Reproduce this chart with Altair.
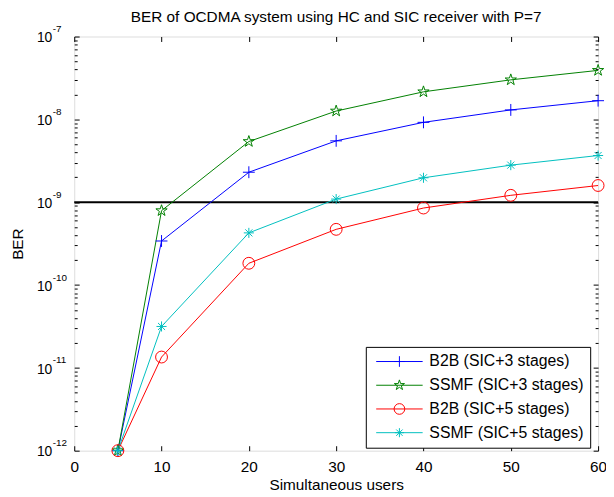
import math
import altair as alt
import pandas as pd

# ---------------- data ----------------
users = [5, 10, 20, 30, 40, 50, 60]
b2b_sic3 = [1e-12, 3.4e-10, 2.3e-9, 5.5e-9, 9.2e-9, 1.3e-8, 1.68e-8]
ssmf_sic3 = [1e-12, 7.9e-10, 5.4e-9, 1.26e-8, 2.15e-8, 3.0e-8, 3.9e-8]
b2b_sic5 = [1e-12, 1.35e-11, 1.83e-10, 4.7e-10, 8.5e-10, 1.21e-9, 1.59e-9]
ssmf_sic5 = [1e-12, 3.16e-11, 4.26e-10, 1.09e-9, 1.97e-9, 2.8e-9, 3.66e-9]
series_names = ["B2B (SIC+3 stages)", "SSMF (SIC+3 stages)",
                "B2B (SIC+5 stages)", "SSMF (SIC+5 stages)"]
series_colors = ["#0000ff", "#008000", "#ff0000", "#00bfbf"]
threshold_x = [0, 60]
threshold_y = [1e-9, 1e-9]
x_tick_values = [0, 10, 20, 30, 40, 50, 60]
y_decade_exponents = [-12, -11, -10, -9, -8, -7]
title_text = "BER of OCDMA system using HC and SIC receiver with P=7"
x_title = "Simultaneous users"
y_title = "BER"

# ---------------- tables ----------------
all_series = [b2b_sic3, ssmf_sic3, b2b_sic5, ssmf_sic5]
rows = []
for name, vals in zip(series_names, all_series):
    for xv, yv in zip(users, vals):
        rows.append({"x": xv, "y": yv, "series": name})
df = pd.DataFrame(rows)
thr = pd.DataFrame({"x": threshold_x, "y": threshold_y})
y_ticks = []
for e in y_decade_exponents:
    y_ticks.append(10.0 ** e)
    if e < y_decade_exponents[-1]:
        for m in range(2, 10):
            y_ticks.append(m * 10.0 ** e)
exp_df = pd.DataFrame({"y": [10.0 ** e for e in y_decade_exponents],
                       "exp": [str(e) for e in y_decade_exponents]})

# ---------------- marker paths (styling) ----------------
def f(v):
    return f"{v:.3f}"

def star_path(r, cx=0.0):
    pts = []
    for i in range(10):
        a = -math.pi / 2 + i * math.pi / 5
        rr = r if i % 2 == 0 else r * 0.382
        pts.append(f"{f(cx + rr*math.cos(a))},{f(rr*math.sin(a))}")
    return "M" + "L".join(pts) + "Z"

def plus_path(r, cx=0.0):
    return f"M{f(cx-r)},0H{f(cx+r)}M{f(cx)},{f(-r)}V{f(r)}"

def circle_path(r, cx=0.0):
    return (f"M{f(cx+r)},0A{f(r)},{f(r)} 0 1,1 {f(cx-r)},0"
            f"A{f(r)},{f(r)} 0 1,1 {f(cx+r)},0Z")

def aster_path(r, cx=0.0):
    d = r * 0.7
    return (f"M{f(cx-r)},0H{f(cx+r)}M{f(cx)},{f(-r)}V{f(r)}"
            f"M{f(cx-d)},{f(-d)}L{f(cx+d)},{f(d)}M{f(cx-d)},{f(d)}L{f(cx+d)},{f(-d)}")

marker_paths = [plus_path(1), star_path(1), circle_path(1), aster_path(0.85)]

# legend symbol: unit = 8 px (symbolSize 256); line 47 px, marker in the middle
LS = 16.0          # sqrt(symbolSize)
u = LS / 2
x0 = (3.7 - u) / u
x1 = (3.7 + 47 - u) / u
xc = (3.7 + 23.5 - u) / u
mr = 5.4 / u
line_part = f"M{f(x0)},0H{f(x1)}"
legend_paths = [line_part + plus_path(mr, xc), line_part + star_path(mr, xc),
                line_part + circle_path(mr, xc), line_part + aster_path(mr * 0.85, xc)]

W, H = 530, 419
FONT = "Liberation Sans"
decade_test = "abs(log(datum.value)/LN10 - round(log(datum.value)/LN10)) < 1e-6"

x_enc = alt.X("x:Q", scale=alt.Scale(domain=[0, 60], nice=False, zero=False),
              axis=alt.Axis(values=x_tick_values, title=x_title, grid=True,
                            gridDash=[5, H - 10, 5, H], gridColor="black",
                            gridOpacity=1, gridWidth=1, ticks=False, domain=False,
                            labelPadding=9, labelFontSize=15.5, labelFont=FONT,
                            labelColor="black", titleFont=FONT, titleFontSize=15.5,
                            titleFontWeight="normal", titleColor="black",
                            titleBaseline="alphabetic", titleY=39, titleX=W / 2,
                            labelFlush=False))
y_enc = alt.Y("y:Q", scale=alt.Scale(type="log", domain=[1e-12, 1e-7], nice=False),
              axis=alt.Axis(values=y_ticks, title=y_title, grid=True,
                            gridDash={"condition": {"test": decade_test,
                                                    "value": [5, W - 10, 5, W]},
                                      "value": [3, W - 6, 3, W]},
                            gridColor="black", gridOpacity=1, gridWidth=1,
                            ticks=False, domain=False, labelPadding=22.7,
                            labelExpr=f"({decade_test}) ? '10' : ''",
                            labelOverlap=False, labelFlush=False, labelOffset=1.3,
                            labelFontSize=14, labelFont=FONT, labelColor="black",
                            titleFont=FONT, titleFontSize=15.5, titleFontWeight="normal",
                            titleColor="black", titleX=-57, titleY=H / 2,
                            titleAngle=270, titleBaseline="middle", titleAlign="center"))

color_scale = alt.Scale(domain=series_names, range=series_colors)

thr_layer = alt.Chart(thr).mark_line(color="black", strokeWidth=2).encode(x=x_enc, y=y_enc)

line_layer = alt.Chart(df).mark_line(strokeWidth=1).encode(
    x=x_enc, y=y_enc,
    color=alt.Color("series:N", scale=color_scale, legend=None),
    order="x:Q")

point_layer = alt.Chart(df).mark_point(filled=False, strokeWidth=1, size=144, opacity=1).encode(
    x=x_enc, y=y_enc,
    color=alt.Color("series:N", scale=color_scale, legend=None),
    shape=alt.Shape("series:N", scale=alt.Scale(domain=series_names, range=marker_paths),
                    legend=None))

exp_layer = alt.Chart(exp_df).mark_text(align="left", baseline="middle", dy=-7.4,
                                        fontSize=10, font=FONT, color="black").encode(
    x=alt.value(-21.7), y=y_enc, text="exp:N")

color_list = ",".join(f"'{c}'" for c in series_colors)
stroke_expr = f"[{color_list}][datum.index]"

legend_layer = alt.Chart(df).transform_filter("false").mark_point(
    filled=False, strokeWidth=1, size=LS * LS, opacity=1).encode(
    x=x_enc, y=y_enc,
    shape=alt.Shape("series:N", scale=alt.Scale(domain=series_names, range=legend_paths),
                    legend=alt.Legend(title=None, orient="none", legendX=295, legendY=314,
                                      strokeColor="black", fillColor="white", padding=6.3,
                                      labelFont=FONT, labelFontSize=16, labelColor="black",
                                      labelOffset=41, symbolSize=LS * LS,
                                      symbolStrokeWidth=1,
                                      symbolStrokeColor=alt.ExprRef(stroke_expr),
                                      rowPadding=7)))

chart = alt.layer(thr_layer, line_layer, point_layer, exp_layer, legend_layer).resolve_scale(
    shape="independent"
).properties(
    width=W, height=H,
    title=alt.TitleParams(title_text, font=FONT, fontSize=15.5, fontWeight="normal",
                          color="black", anchor="middle", baseline="alphabetic",
                          offset=11, dy=24, frame="group"),
    autosize=alt.AutoSizeParams(type="none"),
    padding={"left": 67, "top": 26, "right": 8, "bottom": 43},
).configure_view(stroke="black", strokeWidth=1).configure(background="white")

chart.save("out.html", embed_options={"renderer": "svg", "actions": False})
